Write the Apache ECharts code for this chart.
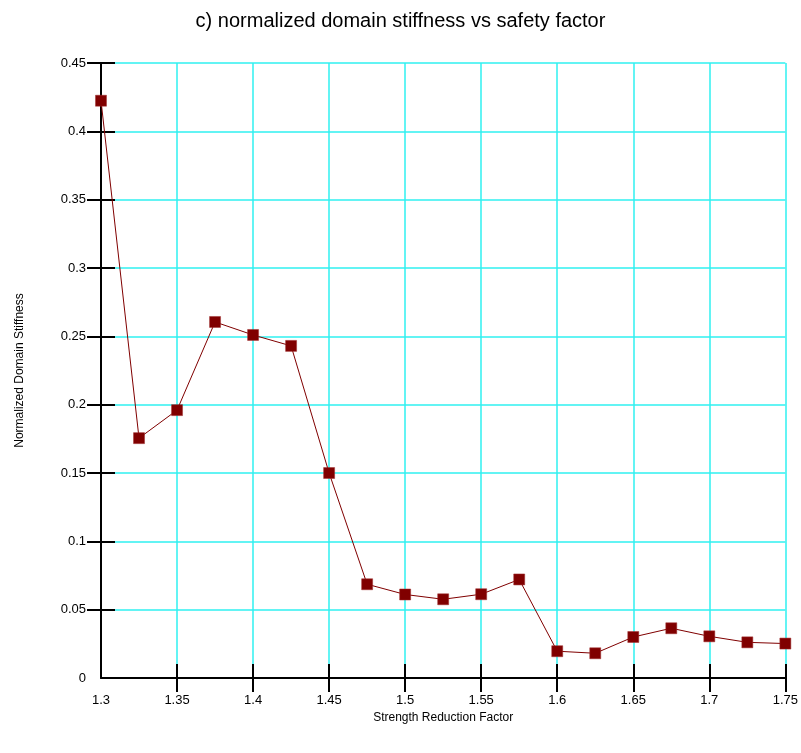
<!DOCTYPE html>
<html>
<head>
<meta charset="utf-8">
<script src="https://cdn.jsdelivr.net/npm/echarts@6/dist/echarts.min.js"></script>
<style>html,body{margin:0;padding:0;background:#fff}#c{width:801px;height:753px}</style>
</head>
<body>
<div id="c"></div>
<script>
const xValues = [1.3, 1.325, 1.35, 1.375, 1.4, 1.425, 1.45, 1.475, 1.5, 1.525, 1.55, 1.575, 1.6, 1.625, 1.65, 1.675, 1.7, 1.725, 1.75];
const stiffness = [0.4224, 0.1755, 0.196, 0.2605, 0.251, 0.243, 0.150, 0.0686, 0.0611, 0.0576, 0.0613, 0.0721, 0.0196, 0.0181, 0.0300, 0.0364, 0.0305, 0.0261, 0.0252];
const xTicks = [1.35, 1.4, 1.45, 1.5, 1.55, 1.6, 1.65, 1.7, 1.75];
const yTicks = [0.05, 0.1, 0.15, 0.2, 0.25, 0.3, 0.35, 0.4, 0.45];
const titleText = 'c) normalized domain stiffness vs safety factor';
const xName = 'Strength Reduction Factor';
const yName = 'Normalized Domain Stiffness';

const FONT = 'Liberation Sans';
const GRID = '#2ff0f0';
const chart = echarts.init(document.getElementById('c'), null, {renderer: 'canvas'});
const data = xValues.map((x, i) => [x, stiffness[i]]);
const xBase = {type: 'value', min: 1.3, max: 1.75, interval: 0.05, position: 'bottom'};
const yBase = {type: 'value', min: 0, max: 0.45, interval: 0.05, position: 'left'};
chart.setOption({
  animation: false,
  backgroundColor: '#fff',
  title: {text: titleText, left: 'center', top: 6, textStyle: {fontFamily: FONT, fontSize: 20, fontWeight: 'normal', color: '#000'}},
  grid: {left: 101, right: 14, top: 63, bottom: 75, containLabel: false},
  xAxis: [
    Object.assign({}, xBase, {
      name: xName, nameLocation: 'middle', nameGap: 30,
      nameTextStyle: {fontFamily: FONT, fontSize: 12, color: '#000'},
      axisLine: {show: true, onZero: false, lineStyle: {color: '#000', width: 2}},
      axisTick: {show: true, inside: false, length: 14, customValues: xTicks, lineStyle: {color: '#000', width: 2}},
      axisLabel: {fontFamily: FONT, fontSize: 13, color: '#000', margin: 16},
      splitLine: {show: true, lineStyle: {color: GRID, width: 1.5}}
    }),
    Object.assign({}, xBase, {
      axisLine: {show: false},
      axisTick: {show: true, inside: true, length: 14, customValues: xTicks, lineStyle: {color: '#000', width: 2}},
      axisLabel: {show: false},
      splitLine: {show: false}
    })
  ],
  yAxis: [
    Object.assign({}, yBase, {
      name: yName, nameLocation: 'middle', nameGap: 75,
      nameTextStyle: {fontFamily: FONT, fontSize: 12, color: '#000'},
      axisLine: {show: true, onZero: false, lineStyle: {color: '#000', width: 2}},
      axisTick: {show: true, inside: false, length: 14, customValues: yTicks, lineStyle: {color: '#000', width: 2}},
      axisLabel: {fontFamily: FONT, fontSize: 13, color: '#000', margin: 15},
      splitLine: {show: true, lineStyle: {color: GRID, width: 1.5}}
    }),
    Object.assign({}, yBase, {
      axisLine: {show: false},
      axisTick: {show: true, inside: true, length: 14, customValues: yTicks, lineStyle: {color: '#000', width: 2}},
      axisLabel: {show: false},
      splitLine: {show: false}
    })
  ],
  series: [{
    type: 'line',
    xAxisIndex: 0,
    yAxisIndex: 0,
    data: data,
    symbol: 'rect',
    symbolSize: 11,
    showAllSymbol: true,
    clip: false,
    z: 5,
    lineStyle: {color: '#800000', width: 1},
    itemStyle: {color: '#800000', borderColor: '#a03030', borderWidth: 0.5}
  }]
});
</script>
</body>
</html>
